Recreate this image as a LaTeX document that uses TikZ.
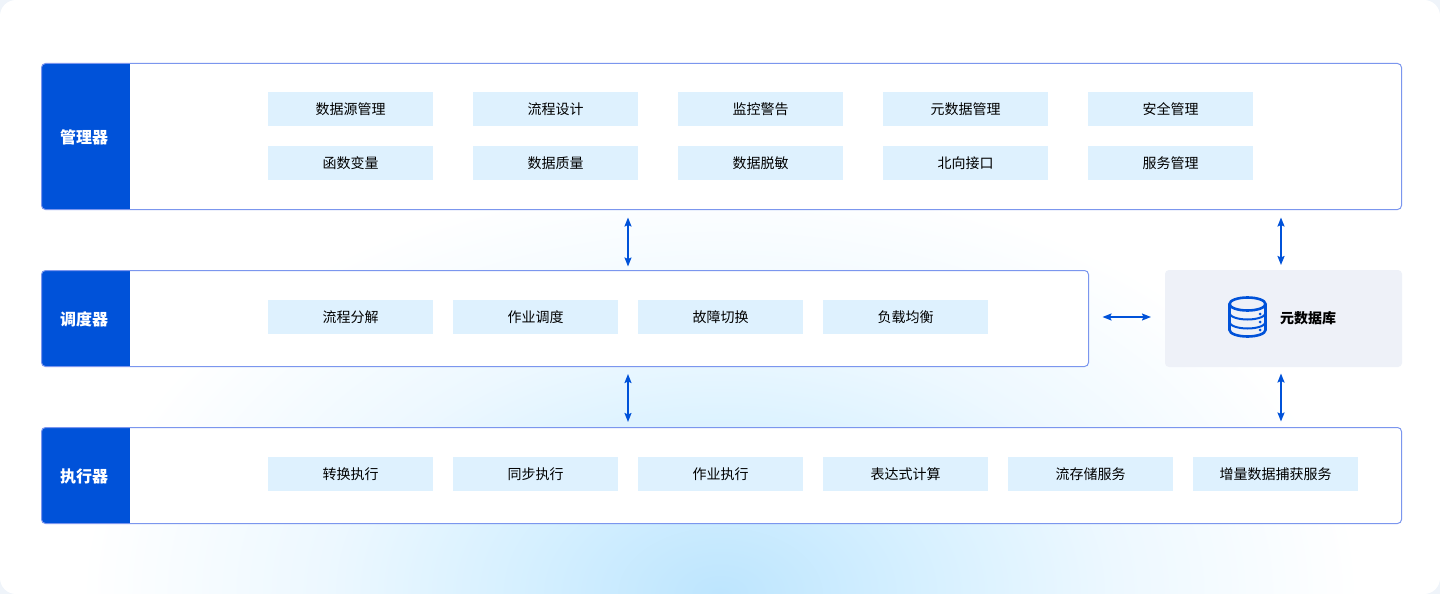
\documentclass[tikz,border=0pt]{standalone}
\usepackage{fontspec}
\setmainfont{Noto Sans CJK SC}
\usetikzlibrary{shapes,arrows.meta,positioning}
\definecolor{headblue}{HTML}{0052D9}
\definecolor{panelline}{HTML}{7B96EE}
\definecolor{chipblue}{HTML}{DEF1FE}
\definecolor{dbgray}{HTML}{EEF1F8}
\definecolor{outergray}{HTML}{EFF4FA}
\definecolor{bgcentre}{HTML}{BDE5FE}
\definecolor{bgmid}{HTML}{D6F0FF}
\definecolor{bgpale}{HTML}{EDF8FF}
\pgfdeclareradialshading{bgglow}{\pgfpoint{0bp}{0bp}}{
  color(0bp)=(bgcentre);
  color(8bp)=(bgmid);
  color(15.5bp)=(bgpale);
  color(25bp)=(white);
  color(50bp)=(white)}
\tikzset{
  chip/.style={fill=chipblue, minimum width=165pt, minimum height=34pt, inner sep=0pt, outer sep=0pt, font=\fontsize{14pt}{16pt}\selectfont, text=black},
  panel/.style={draw=panelline, line width=1pt, fill=white, rectangle, rounded corners=4pt, inner sep=0pt, outer sep=0pt, anchor=north west},
  headlabel/.style={text=white, font=\fontsize{16pt}{18pt}\selectfont\bfseries, inner sep=0pt},
  link/.style={{Stealth[length=9pt,width=7pt,inset=1.5pt]}-{Stealth[length=9pt,width=7pt,inset=1.5pt]}, draw=headblue, line width=1.6pt},
  dbline/.style={draw=headblue, line width=2.6pt}
}
\begin{document}
\begin{tikzpicture}[x=1pt, y=-1pt, node distance=20pt]
\useasboundingbox (0,0) rectangle (1440,594);
\fill[outergray] (0,0) rectangle (1440,594);
\begin{scope}
\clip[rounded corners=16pt] (0,0) rectangle (1440,594);
\fill[white] (0,0) rectangle (1440,594);
\path[shading=bgglow] (720,594) ellipse [x radius=640, y radius=420];
\end{scope}

\node (mgr) [panel, minimum width=1360pt, minimum height=146pt, path picture={\fill[headblue, sharp corners] (path picture bounding box.north west) rectangle ++(88,146);}] at (41.5,63.5) {};
\node (sch) [panel, minimum width=1047pt, minimum height=96pt, path picture={\fill[headblue, sharp corners] (path picture bounding box.north west) rectangle ++(88,96);}] at (41.5,270.5) {};
\node (exe) [panel, minimum width=1360pt, minimum height=96pt, path picture={\fill[headblue, sharp corners] (path picture bounding box.north west) rectangle ++(88,96);}] at (41.5,427.5) {};
\node (db) [fill=dbgray, rounded corners=4pt, inner sep=0pt, outer sep=0pt, anchor=north west, minimum width=237pt, minimum height=97pt] at (1165,270) {};

\node (mgrlabel) [headlabel] at (84,137) {管理器};
\node (schlabel) [headlabel] at (84,319) {调度器};
\node (exelabel) [headlabel] at (84,476) {执行器};

\node (a1) [chip, anchor=north west] at (268,92) {数据源管理};
\node (a2) [chip, right=40pt of a1] {流程设计};
\node (a3) [chip, right=40pt of a2] {监控警告};
\node (a4) [chip, right=40pt of a3] {元数据管理};
\node (a5) [chip, right=40pt of a4] {安全管理};
\node (b1) [chip, below=20pt of a1] {函数变量};
\node (b2) [chip, right=40pt of b1] {数据质量};
\node (b3) [chip, right=40pt of b2] {数据脱敏};
\node (b4) [chip, right=40pt of b3] {北向接口};
\node (b5) [chip, right=40pt of b4] {服务管理};

\node (c1) [chip, anchor=north west] at (268,300) {流程分解};
\node (c2) [chip, right=of c1] {作业调度};
\node (c3) [chip, right=of c2] {故障切换};
\node (c4) [chip, right=of c3] {负载均衡};

\node (d1) [chip, anchor=north west] at (268,457) {转换执行};
\node (d2) [chip, right=of d1] {同步执行};
\node (d3) [chip, right=of d2] {作业执行};
\node (d4) [chip, right=of d3] {表达式计算};
\node (d5) [chip, right=of d4] {流存储服务};
\node (d6) [chip, right=of d5] {增量数据捕获服务};

\node (dblabel) [font=\fontsize{14pt}{16pt}\selectfont\bfseries, inner sep=0pt, anchor=west] at (1280,318) {元数据库};

\draw[dbline] (1247.5,304) ellipse [x radius=18, y radius=6.5];
\draw[dbline] (1229.5,304) -- (1229.5,330) arc[start angle=180, end angle=360, x radius=18, y radius=-6.5] -- (1265.5,304);
\draw[draw=headblue, line width=2pt] (1229.5,313) arc[start angle=180, end angle=360, x radius=18, y radius=-6.5];
\draw[draw=headblue, line width=2pt] (1229.5,322) arc[start angle=180, end angle=360, x radius=18, y radius=-6.5];
\fill[headblue] (1260,314) circle (1.5pt) (1260,322) circle (1.5pt) (1260,330) circle (1.5pt);

\coordinate (xa) at (628,0);
\coordinate (xb) at (1281,0);
\coordinate (yc) at (0,317);
\draw[link, shorten <=8pt, shorten >=4pt] (xa |- mgr.south) -- (xa |- sch.north);
\draw[link, shorten <=8pt, shorten >=5pt] (xb |- mgr.south) -- (xb |- db.north);
\draw[link, shorten <=7.5pt, shorten >=5.5pt] (xa |- sch.south) -- (xa |- exe.north);
\draw[link, shorten <=6.5pt, shorten >=6pt] (xb |- db.south) -- (xb |- exe.north);
\draw[link, shorten <=14pt, shorten >=14pt] (sch.east |- yc) -- (db.west |- yc);
\end{tikzpicture}
\end{document}
